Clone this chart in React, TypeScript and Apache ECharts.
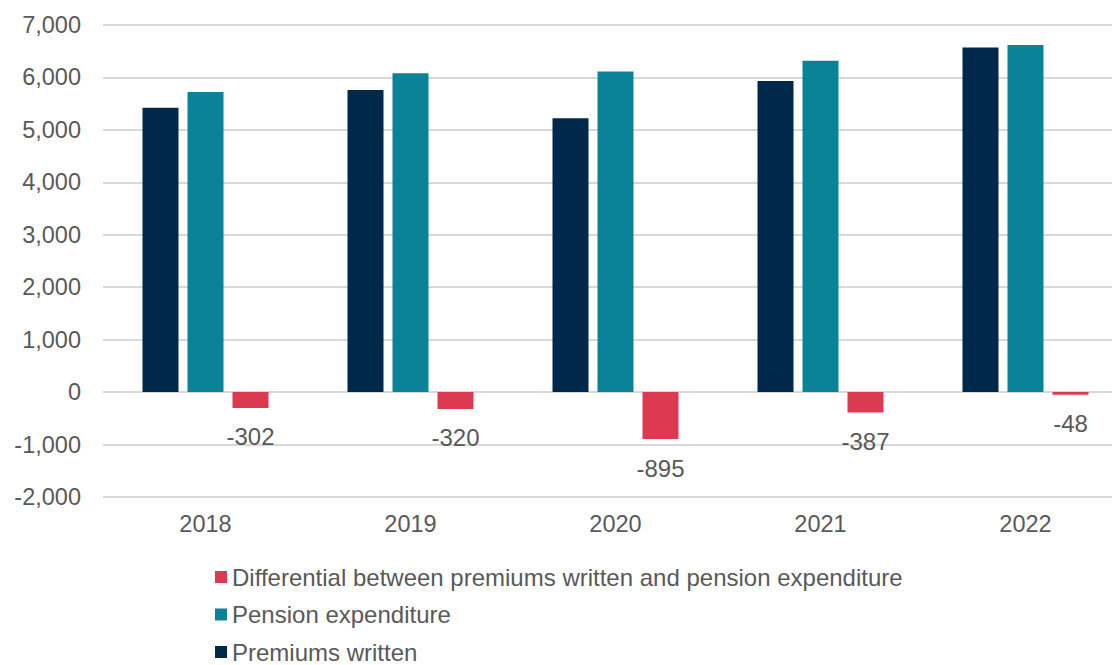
import React, { useEffect, useRef } from "react";
import * as echarts from "echarts";

const categories = ["2018", "2019", "2020", "2021", "2022"];
const premiumsWritten = [5420, 5760, 5220, 5930, 6570];
const pensionExpenditure = [5722, 6080, 6115, 6317, 6618];
const differential = [-302, -320, -895, -387, -48];
const yTicks = { min: -2000, max: 7000, interval: 1000 };

const NAVY = "#00284B";
const TEAL = "#0A8398";
const RED = "#DC3A51";
const TEXT = "#595959";
const FONT = "'Liberation Sans', Arial, sans-serif";

export default function App() {
  const ref = useRef<HTMLDivElement>(null);
  useEffect(() => {
    const chart = echarts.init(ref.current!, undefined, { renderer: "svg" });
    chart.setOption({
      animation: false,
      textStyle: { fontFamily: FONT },
      grid: { left: 103, top: 25, height: 472, width: 1025, containLabel: false },
      legend: {
        orient: "vertical",
        left: 215,
        top: 565,
        padding: 0,
        itemWidth: 12,
        itemHeight: 12,
        itemGap: 13.5,
        icon: "rect",
        data: [
          "Differential between premiums written and pension expenditure",
          "Pension expenditure",
          "Premiums written",
        ],
        textStyle: { color: TEXT, fontSize: 24, lineHeight: 24, fontFamily: FONT },
      },
      xAxis: {
        type: "category",
        data: categories,
        axisLine: { show: false },
        axisTick: { show: false },
        axisLabel: { color: TEXT, fontSize: 23.5, margin: 15, fontFamily: FONT },
      },
      yAxis: {
        type: "value",
        min: yTicks.min,
        max: yTicks.max,
        interval: yTicks.interval,
        axisLine: { show: false },
        axisTick: { show: false },
        splitLine: { lineStyle: { color: "#D9D9D9", width: 2 } },
        axisLabel: {
          color: TEXT,
          fontSize: 23.5,
          margin: 22,
          fontFamily: FONT,
          formatter: (v: number) => v.toLocaleString("en-US"),
        },
      },
      series: [
        {
          name: "Premiums written",
          type: "bar",
          data: premiumsWritten,
          barWidth: 36,
          barGap: "25%",
          itemStyle: { color: NAVY },
        },
        {
          name: "Pension expenditure",
          type: "bar",
          data: pensionExpenditure,
          barWidth: 36,
          barGap: "25%",
          itemStyle: { color: TEAL },
        },
        {
          name: "Differential between premiums written and pension expenditure",
          type: "bar",
          data: differential,
          barWidth: 36,
          barGap: "25%",
          itemStyle: { color: RED },
          label: {
            show: true,
            position: "bottom",
            distance: 17,
            color: TEXT,
            fontSize: 24,
            fontFamily: FONT,
          },
        },
      ],
    });
    return () => chart.dispose();
  }, []);
  return (
    <div style={{ position: "absolute", left: 0, top: 0, width: 1112, height: 665, overflow: "hidden" }}>
      <div ref={ref} style={{ width: 1140, height: 700 }} />
    </div>
  );
}
